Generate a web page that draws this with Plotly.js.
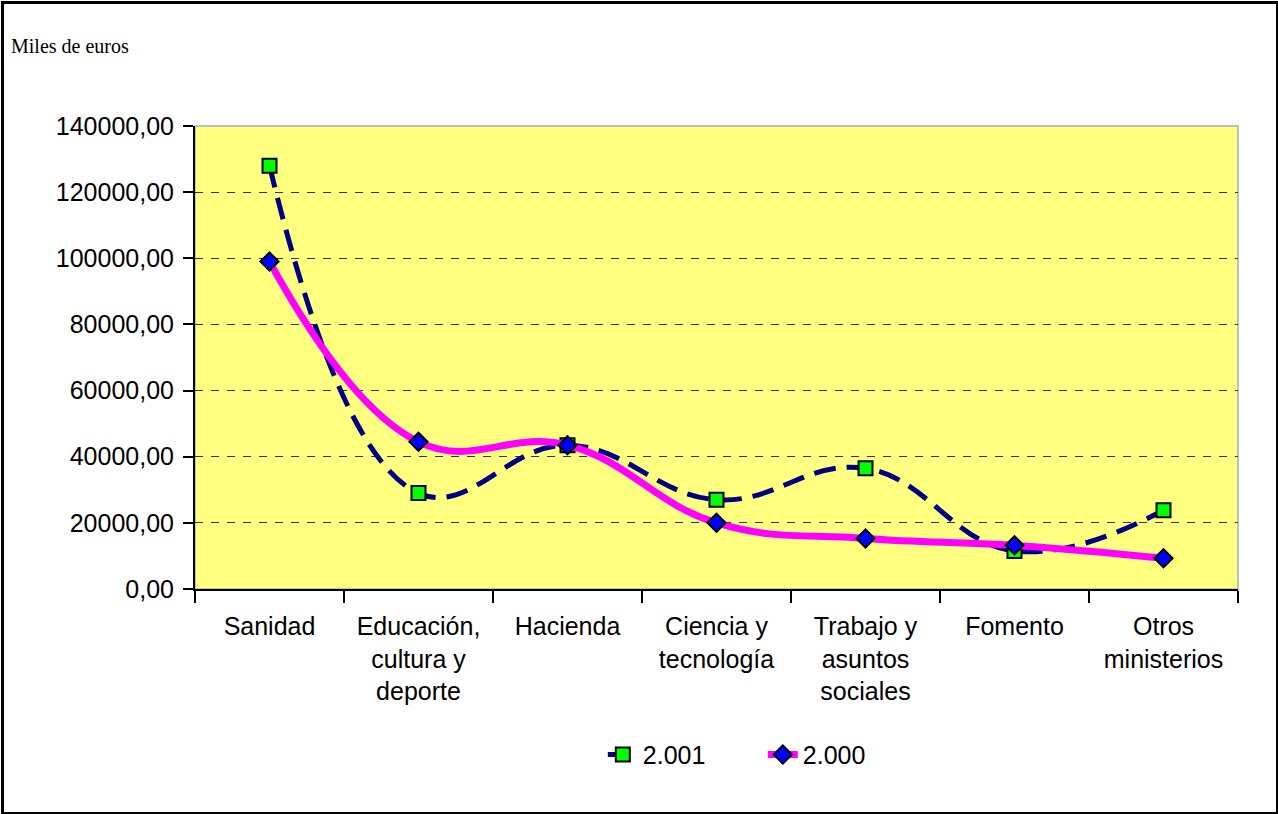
<!DOCTYPE html>
<html>
<head>
<meta charset="utf-8">
<script src="https://cdn.plot.ly/plotly-3.0.1.min.js"></script>
<style>
html,body{margin:0;padding:0;background:#fff;}
#wrap{position:relative;width:1278px;height:814px;}
#chart{width:1278px;height:814px;}
#frame{position:absolute;left:1px;top:1px;width:1272px;height:808px;border:3px solid #000;pointer-events:none;}
</style>
</head>
<body>
<div id="wrap"><div id="chart"></div><div id="frame"></div></div>
<script>
const categories = ["Sanidad", "Educación,<br>cultura y<br>deporte", "Hacienda", "Ciencia y<br>tecnología", "Trabajo y<br>asuntos<br>sociales", "Fomento", "Otros<br>ministerios"];
const values2001 = [128000, 29000, 43500, 27000, 36500, 11500, 23800];
const values2000 = [99000, 44500, 43500, 20000, 15300, 13200, 9300];
const yTickVals = [0, 20000, 40000, 60000, 80000, 100000, 120000, 140000];
const yTickText = ["0,00", "20000,00", "40000,00", "60000,00", "80000,00", "100000,00", "120000,00", "140000,00"];
const seriesNames = ["2.001", "2.000"];

const traces = [
  {
    x: categories, y: values2001, name: seriesNames[0], type: 'scatter', mode: 'lines+markers',
    line: {color: '#000080', width: 5, dash: '22px,11px', shape: 'spline', smoothing: 1.2},
    marker: {symbol: 'square', size: 14, color: '#00FF00', line: {color: '#000', width: 2}}
  },
  {
    x: categories, y: values2000, name: seriesNames[1], type: 'scatter', mode: 'lines+markers',
    line: {color: '#FF00FF', width: 7, shape: 'spline', smoothing: 1.2},
    marker: {symbol: 'diamond', size: 14, color: '#0000FF', line: {color: '#000', width: 2}}
  }
];

const layout = {
  width: 1278, height: 814,
  margin: {l: 195, r: 40, t: 126, b: 225},
  paper_bgcolor: '#FFFFFF',
  plot_bgcolor: '#FFFF80',
  font: {family: 'Liberation Sans, Arial, sans-serif', size: 25, color: '#000'},
  showlegend: true,
  legend: {orientation: 'h', x: 0.391, xanchor: 'left', y: -0.358, yanchor: 'middle',
           font: {size: 25}, bgcolor: 'rgba(0,0,0,0)', entrywidth: 115, entrywidthmode: 'pixels'},
  xaxis: {
    type: 'category', range: [-0.5, 6.5], tickson: 'boundaries',
    ticks: 'outside', ticklen: 12, tickwidth: 2, tickcolor: '#000',
    showline: true, linecolor: '#000', linewidth: 2, showgrid: false,
    tickfont: {size: 25}, zeroline: false, ticklabelstandoff: 14
  },
  yaxis: {
    range: [0, 140000], tickvals: yTickVals, ticktext: yTickText,
    ticks: 'outside', ticklen: 10, tickwidth: 2, tickcolor: '#000',
    showline: true, linecolor: '#000', linewidth: 2,
    showgrid: true, gridcolor: '#333', griddash: '8px,8px', gridwidth: 1,
    zeroline: false, tickfont: {size: 25}, ticklabelstandoff: 4
  },
  shapes: [
    {type: 'rect', xref: 'paper', yref: 'paper', x0: 0, x1: 1, y0: 0, y1: 1,
     line: {color: '#C0C0C0', width: 2}, layer: 'below'}
  ],
  annotations: [
    {text: 'Miles de euros', xref: 'paper', yref: 'paper', x: -0.178, y: 1.173,
     xanchor: 'left', yanchor: 'middle', showarrow: false,
     font: {family: 'Liberation Serif, Times New Roman, serif', size: 20, color: '#000'}}
  ]
};

Plotly.newPlot('chart', traces, layout, {displayModeBar: false, staticPlot: true});
</script>
</body>
</html>
